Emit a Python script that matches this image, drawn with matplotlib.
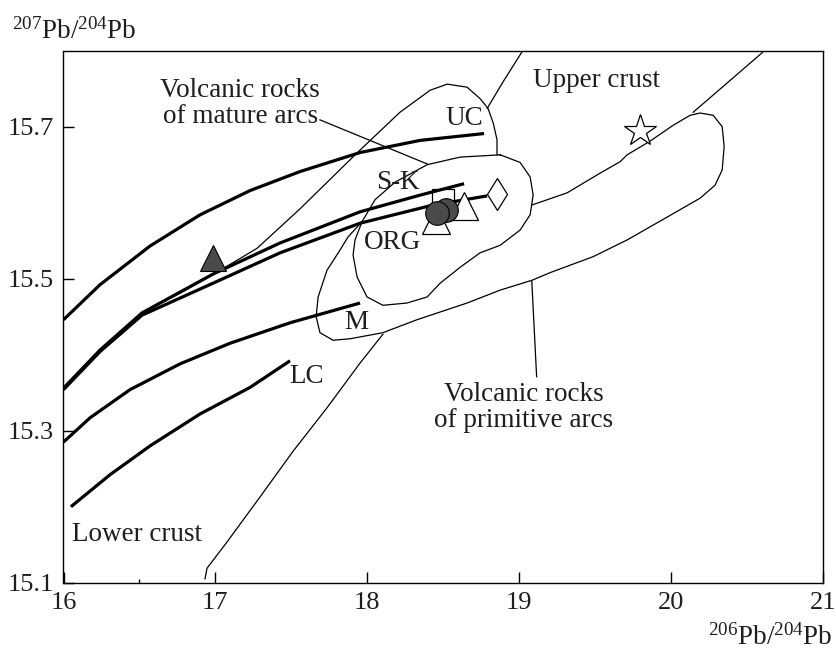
import matplotlib.pyplot as plt

# Pb growth curves (206Pb/204Pb, 207Pb/204Pb)
uc_x = [16.0, 16.240, 16.570, 16.899, 17.229, 17.558, 17.953, 18.349, 18.770]
uc_y = [15.446, 15.492, 15.543, 15.584, 15.616, 15.641, 15.666, 15.682, 15.691]

sk1_x = [16.0, 16.240, 16.517, 16.984, 17.426, 17.953, 18.349, 18.638]
sk1_y = [15.356, 15.406, 15.455, 15.506, 15.547, 15.588, 15.610, 15.625]

sk2_x = [16.0, 16.240, 16.517, 16.984, 17.426, 17.953, 18.415, 18.790]
sk2_y = [15.354, 15.404, 15.452, 15.494, 15.534, 15.573, 15.596, 15.609]

m_x = [16.0, 16.175, 16.438, 16.768, 17.096, 17.492, 17.953]
m_y = [15.285, 15.317, 15.354, 15.388, 15.415, 15.442, 15.468]

lc_x = [16.049, 16.306, 16.570, 16.899, 17.229, 17.492]
lc_y = [15.200, 15.242, 15.280, 15.322, 15.357, 15.392]

# field boundaries
big_x = [16.517, 16.768, 17.031, 17.275, 17.558, 17.941, 18.216, 18.415, 18.527,
         18.658, 18.743, 18.796, 18.830, 18.855, 18.855]
big_y = [15.455, 15.481, 15.511, 15.540, 15.592, 15.667, 15.719, 15.748, 15.756,
         15.752, 15.737, 15.724, 15.705, 15.683, 15.663]

org_x = [18.876, 19.007, 19.073, 19.093, 19.073, 19.007, 18.876, 18.743, 18.612, 18.480,
         18.395, 18.262, 18.104, 17.999, 17.934, 17.907, 17.920, 17.966, 18.052, 18.184,
         18.395, 18.612, 18.876]
org_y = [15.663, 15.653, 15.634, 15.610, 15.584, 15.564, 15.544, 15.534, 15.515, 15.494,
         15.476, 15.468, 15.465, 15.476, 15.502, 15.531, 15.551, 15.575, 15.604, 15.627,
         15.650, 15.660, 15.663]

prim_x = [17.966, 17.874, 17.822, 17.735, 17.677, 17.664, 17.689, 17.776, 17.888, 18.104,
          18.328, 18.658, 18.876, 19.086, 19.205, 19.488, 19.712, 19.975, 20.193, 20.291,
          20.338, 20.351, 20.338, 20.279, 20.193, 20.127, 20.016, 19.863, 19.712, 19.666,
          19.535, 19.317, 19.086]
prim_y = [15.575, 15.555, 15.538, 15.511, 15.476, 15.450, 15.429, 15.419, 15.421, 15.429,
          15.446, 15.468, 15.485, 15.498, 15.508, 15.529, 15.551, 15.581, 15.606, 15.623,
          15.643, 15.674, 15.700, 15.715, 15.718, 15.715, 15.702, 15.681, 15.663, 15.654,
          15.639, 15.613, 15.597]

lower_x = [16.932, 16.945, 17.071, 17.295, 17.512, 17.735, 17.953, 18.104]
lower_y = [15.105, 15.119, 15.152, 15.213, 15.273, 15.330, 15.389, 15.427]

ucl_x = [19.018, 18.901, 18.790]
ucl_y = [15.798, 15.761, 15.724]

upr_x = [20.605, 20.391, 20.147]
upr_y = [15.798, 15.761, 15.719]

# label pointers
ptr_mature_x = [17.689, 18.395]
ptr_mature_y = [15.709, 15.651]
ptr_prim_x = [19.084, 19.116]
ptr_prim_y = [15.497, 15.371]

# samples
tri_fill = (16.987, 15.527)
circles_x = [18.459, 18.520]
circles_y = [15.586, 15.590]
square = (18.502, 15.603)
tri_open_x = [18.452, 18.636]
tri_open_y = [15.577, 15.596]
diamond = (18.853, 15.611)
star = (19.798, 15.695)

plt.rcParams['font.family'] = ['Liberation Serif', 'DejaVu Serif']
plt.rcParams['mathtext.fontset'] = 'custom'
plt.rcParams['mathtext.rm'] = 'Liberation Serif'
plt.rcParams['mathtext.it'] = 'Liberation Serif:italic'
plt.rcParams['mathtext.bf'] = 'Liberation Serif:bold'

txt = '#1e1e1e'
grey = '#4a4a4a'

fig = plt.figure(figsize=(8.36, 6.5), dpi=100)
ax = fig.add_axes([63.5 / 836, 1 - 582.7 / 650, (822.7 - 63.5) / 836, (582.7 - 50.7) / 650])

thick = dict(color='black', lw=2.3, solid_capstyle='butt', zorder=3)
thin = dict(color='black', lw=0.9, zorder=2)

ax.plot(uc_x, uc_y, **thick)
ax.plot(sk1_x, sk1_y, **thick)
ax.plot(sk2_x, sk2_y, **thick)
ax.plot(m_x, m_y, **thick)
ax.plot(lc_x, lc_y, **thick)

ax.plot(big_x, big_y, **thin)
ax.plot(org_x, org_y, **thin)
ax.plot(prim_x, prim_y, **thin)
ax.plot(lower_x, lower_y, **thin)
ax.plot(ucl_x, ucl_y, **thin)
ax.plot(upr_x, upr_y, **thin)
ax.plot(ptr_mature_x, ptr_mature_y, **thin)
ax.plot(ptr_prim_x, ptr_prim_y, **thin)

ax.plot(*tri_fill, marker='^', ms=19, mfc=grey, mec='black', mew=0.8, zorder=5)
ax.plot(*square, marker='s', ms=16.5, mfc='none', mec='black', mew=0.9, zorder=4)
ax.plot(tri_open_x, tri_open_y, ls='none', marker='^', ms=19.5, mfc='white', mec='black',
        mew=0.9, zorder=4)
ax.plot(circles_x[::-1], circles_y[::-1], ls='none', marker='o', ms=17, mfc=grey,
        mec='black', mew=0.8, zorder=6)
ax.plot(*diamond, marker='d', ms=16.8, mfc='white', mec='black', mew=0.9, zorder=4)
ax.plot(*star, marker='*', ms=24, mfc='white', mec='black', mew=0.9, zorder=4)

fs = 19.5
ax.text(17.163, 15.731, 'Volcanic rocks\nof mature arcs', ha='center', va='center',
        fontsize=fs, color=txt, linespacing=1.05)
ax.text(19.093, 15.761, 'Upper crust', ha='left', va='center', fontsize=fs, color=txt)
ax.text(18.638, 15.711, 'UC', ha='center', va='center', fontsize=fs, color=txt)
ax.text(18.201, 15.626, 'S-K', ha='center', va='center', fontsize=fs, color=txt)
ax.text(18.167, 15.547, 'ORG', ha='center', va='center', fontsize=fs, color=txt)
ax.text(17.930, 15.443, 'M', ha='center', va='center', fontsize=fs, color=txt)
ax.text(17.601, 15.371, 'LC', ha='center', va='center', fontsize=fs, color=txt)
ax.text(16.056, 15.163, 'Lower crust', ha='left', va='center', fontsize=fs, color=txt)
ax.text(19.03, 15.331, 'Volcanic rocks\nof primitive arcs', ha='center', va='center',
        fontsize=fs, color=txt, linespacing=1.05)

ax.set_xlim(16, 21)
ax.set_ylim(15.1, 15.8)
ax.set_xticks([16, 17, 18, 19, 20, 21])
ax.set_yticks([15.1, 15.3, 15.5, 15.7])
ax.set_xticks([16.5], minor=True)
ax.set_yticks([], minor=True)
ax.tick_params(which='major', direction='in', length=8, width=1.0, labelsize=19,
               labelcolor=txt, pad=7)
ax.tick_params(which='minor', direction='in', length=3, width=1.0)
for s in ax.spines.values():
    s.set_linewidth(1.0)

fig.text(12 / 836, 1 - 39 / 650, r'$^{207}$Pb/$^{204}$Pb', ha='left', va='baseline',
         fontsize=19.5, color=txt)
fig.text(833 / 836, 1 - 645 / 650, r'$^{206}$Pb/$^{204}$Pb', ha='right', va='baseline',
         fontsize=19.5, color=txt)

fig.savefig('out.png', dpi=100)
